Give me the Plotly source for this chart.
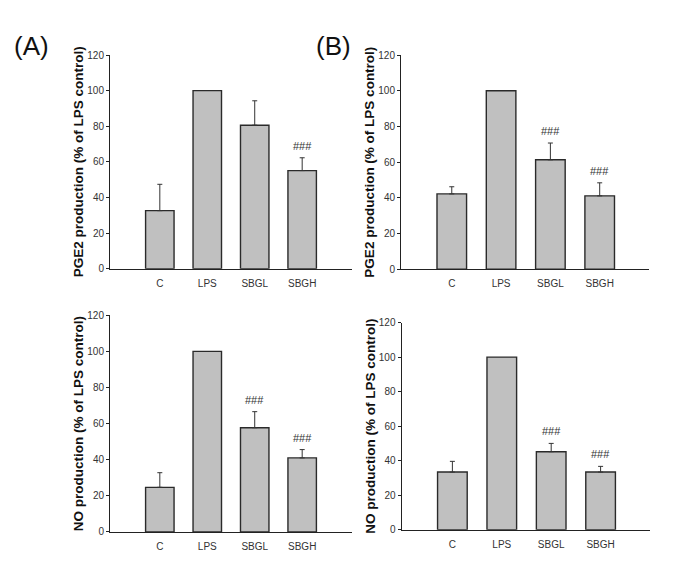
import plotly.graph_objects as go

categories = ["C", "LPS", "SBGL", "SBGH"]

# Panel A (left) values; None = no error bar drawn
a_pge2 = [32.6, 100, 80.6, 55.1]
a_pge2_err = [14.8, None, 13.7, 7.2]
a_pge2_sig = ["", "", "", "###"]

a_no = [24.7, 100, 57.7, 41.0]
a_no_err = [8.1, None, 8.9, 4.6]
a_no_sig = ["", "", "###", "###"]

# Panel B (right) values
b_pge2 = [42.2, 100, 61.3, 41.1]
b_pge2_err = [4.0, None, 9.4, 7.3]
b_pge2_sig = ["", "", "###", "###"]

b_no = [33.4, 100, 45.2, 33.4]
b_no_err = [6.2, None, 4.8, 3.3]
b_no_sig = ["", "", "###", "###"]

y_ticks = [0, 20, 40, 60, 80, 100, 120]
pge2_title = "PGE2 production (% of LPS control)"
no_title = "NO production (% of LPS control)"

W, H = 669, 566
OX = 8            # horizontal page offset
OY, SY = 14, 0.978  # measured vertical offset and scale of the page photo

def px_x(a, b):
    return [(a - OX) / W, (b - OX) / W]

def fy(y):
    return (H - (y - OY) / SY) / H

def px_y(top, bottom):
    return [fy(bottom), fy(top)]

panels = [
    (a_pge2, a_pge2_err, a_pge2_sig, pge2_title, (110, 352), (55, 268.5), [-1.05, 4.05]),
    (b_pge2, b_pge2_err, b_pge2_sig, pge2_title, (401, 649), (55, 269), [-1.03, 4.0]),
    (a_no, a_no_err, a_no_sig, no_title, (110, 352), (315, 531.5), [-1.05, 4.05]),
    (b_no, b_no_err, b_no_sig, no_title, (401.5, 650), (322.3, 529.3), [-1.03, 4.0]),
]

fig = go.Figure()
narrow = "Liberation Sans Narrow, Arial Narrow, Liberation Sans, Arial"
tick_font = dict(family=narrow, size=10, color="#333333")
annotations = []

for i, (vals, errs, sig, title, xd, yd, xr) in enumerate(panels, start=1):
    xa = "x" if i == 1 else f"x{i}"
    ya = "y" if i == 1 else f"y{i}"
    fig.add_trace(go.Bar(
        x=categories, y=vals, xaxis=xa, yaxis=ya, width=0.6,
        marker=dict(color="#c0c0c0", line=dict(color="#2a2a2a", width=1.4)),
        showlegend=False, hoverinfo="skip",
    ))
    ex = [c for c, e in zip(categories, errs) if e is not None]
    ey = [v for v, e in zip(vals, errs) if e is not None]
    ee = [e for e in errs if e is not None]
    fig.add_trace(go.Scatter(
        x=ex, y=ey, xaxis=xa, yaxis=ya, mode="markers",
        marker=dict(size=1, opacity=0),
        error_y=dict(type="data", symmetric=False, array=ee, arrayminus=[0] * len(ee),
                     color="#333333", thickness=1, width=2.5, visible=True),
        showlegend=False, hoverinfo="skip",
    ))
    for c, v, e, s in zip(categories, vals, errs, sig):
        if s:
            annotations.append(dict(
                x=c, y=v + (e or 0), xref=xa, yref=ya, text=s, showarrow=False,
                yanchor="bottom", yshift=4,
                font=dict(family=narrow, size=11, color="#333333")))
    xkey = "xaxis" if i == 1 else f"xaxis{i}"
    ykey = "yaxis" if i == 1 else f"yaxis{i}"
    fig.update_layout(**{
        xkey: dict(domain=px_x(*xd), anchor=ya, range=xr, showline=True,
                   linecolor="#222222", linewidth=1, ticks="", showgrid=False,
                   zeroline=False, tickfont=tick_font, ticklabelstandoff=5, fixedrange=True),
        ykey: dict(domain=px_y(*yd), anchor=xa, range=[0, 120], tickvals=y_ticks,
                   showline=True, linecolor="#222222", linewidth=1,
                   ticks="outside", ticklen=3, tickcolor="#222222",
                   showgrid=False, zeroline=False, tickfont=tick_font,
                   title=dict(text=title, standoff=0,
                              font=dict(family="Liberation Sans, Arial", size=13.5,
                                        color="#111111", weight="bold")),
                   fixedrange=True),
    })

for label, lx in (("(A)", 12), ("(B)", 314)):
    annotations.append(dict(x=(lx - OX) / W, y=fy(46), xref="paper", yref="paper",
                            text=label, showarrow=False, xanchor="left", yanchor="middle",
                            font=dict(family=narrow, size=26, color="#111111")))

fig.update_layout(
    width=W, height=H, margin=dict(l=0, r=0, t=0, b=0),
    paper_bgcolor="white", plot_bgcolor="white",
    annotations=annotations,
)

fig.write_html("out.html")
